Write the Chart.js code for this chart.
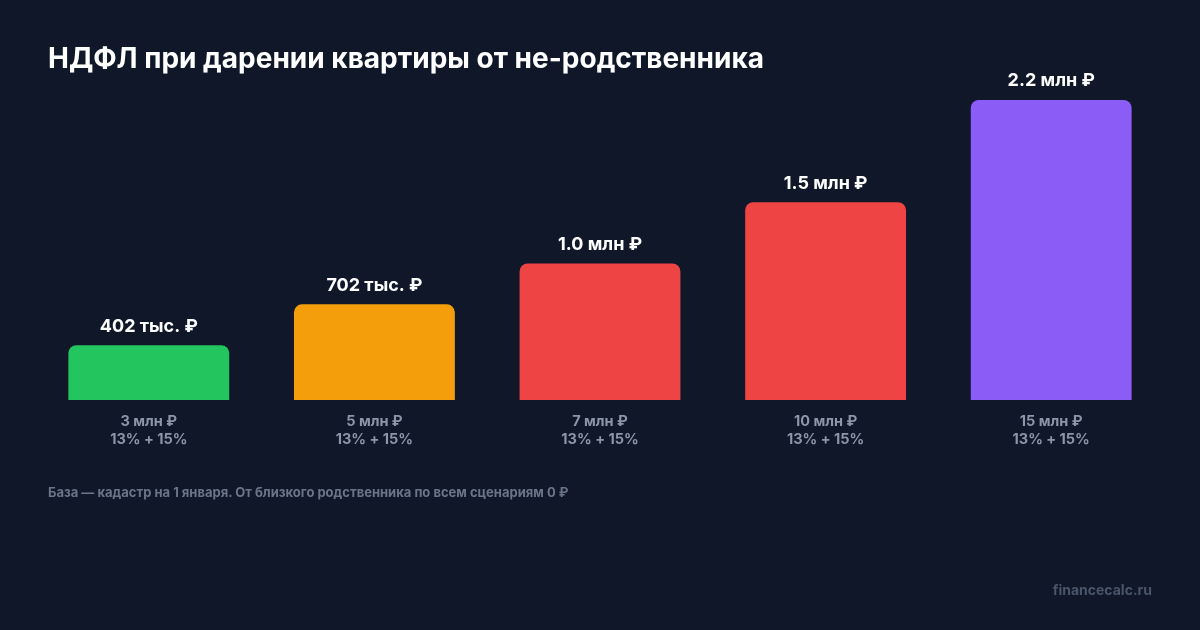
<!DOCTYPE html>
<html lang="ru">
<head>
<meta charset="utf-8">
<script src="https://cdn.jsdelivr.net/npm/chart.js@4"></script>
<style>
    html, body {
        margin: 0;
        padding: 0;
        background: #0f1729;
        font-family: Inter, "Noto Sans", sans-serif;
    }
    .page {
        position: relative;
        width: 1200px;
        height: 630px;
        overflow: hidden;
    }
    #myChart {
        position: absolute;
        left: 0;
        top: 0;
    }
    .title {
        position: absolute;
        left: 48px;
        top: 39px;
        margin: 0;
        color: #ffffff;
        font-size: 28px;
        font-weight: 700;
        line-height: 38px;
    }
    .note {
        position: absolute;
        left: 48px;
        top: 483px;
        color: #6b7589;
        font-size: 13px;
        font-weight: 700;
        line-height: 18px;
    }
    .brand {
        position: absolute;
        right: 48px;
        top: 580px;
        color: #4a5569;
        font-size: 14px;
        font-weight: 700;
        line-height: 20px;
    }
</style>
</head>
<body>
<div class="page">
    <canvas id="myChart" width="1200" height="630"></canvas>
    <h1 class="title">НДФЛ при дарении квартиры от не-родственника</h1>
    <div class="note">База — кадастр на 1 января. От близкого родственника по всем сценариям 0 ₽</div>
    <div class="brand">financecalc.ru</div>
</div>
<script>
// стоимость квартиры и ставки
const prices = ["3 млн ₽", "5 млн ₽", "7 млн ₽", "10 млн ₽", "15 млн ₽"];
const rates = ["13% + 15%", "13% + 15%", "13% + 15%", "13% + 15%", "13% + 15%"];
// налог, тыс. ₽
const taxValues = [402, 702, 1002, 1452, 2202];
const barColors = ["#22c55e", "#f59e0b", "#ef4444", "#ef4444", "#8b5cf6"];

function formatTax(value) {
    if (value < 1000) {
        return `${value} тыс. ₽`;
    }
    return `${(value / 1000).toFixed(1)} млн ₽`;
}

const valueLabels = {
    id: "valueLabels",
    afterDatasetsDraw(chart) {
        const ctx = chart.ctx;
        const meta = chart.getDatasetMeta(0);

        ctx.save();
        ctx.fillStyle = "#ffffff";
        ctx.font = "700 18px Inter, 'Noto Sans', sans-serif";
        ctx.textAlign = "center";
        ctx.textBaseline = "middle";

        meta.data.forEach((bar, i) => {
            ctx.fillText(formatTax(taxValues[i]), bar.x, bar.y - 19);
        });

        ctx.restore();
    },
};

function buildChart() {
    const labels = prices.map((p, i) => [p, rates[i]]);

    const config = {
        type: "bar",
        data: {
            labels: labels,
            datasets: [
                {
                    label: "НДФЛ",
                    data: taxValues,
                    backgroundColor: barColors,
                    borderRadius: { topLeft: 8, topRight: 8, bottomLeft: 0, bottomRight: 0 },
                    borderSkipped: false,
                    barPercentage: 0.713,
                    categoryPercentage: 1,
                },
            ],
        },
        options: {
            responsive: false,
            animation: false,
            layout: {
                padding: { left: 36, right: 36, top: 100, bottom: 170 },
            },
            plugins: {
                legend: { display: false },
                tooltip: { enabled: false },
            },
            scales: {
                x: {
                    grid: { display: false },
                    border: { display: false },
                    ticks: {
                        color: "#8c96a8",
                        padding: 4,
                        font: { family: "Inter", size: 14.5, weight: "700", lineHeight: 1.28 },
                    },
                    afterFit(axis) {
                        axis.height = 60;
                    },
                },
                y: {
                    display: false,
                    min: 0,
                    max: 2202,
                },
            },
        },
        plugins: [valueLabels],
    };

    const ctx = document.getElementById("myChart").getContext("2d");

    return new Chart(ctx, config);
}

buildChart();
</script>
</body>
</html>
